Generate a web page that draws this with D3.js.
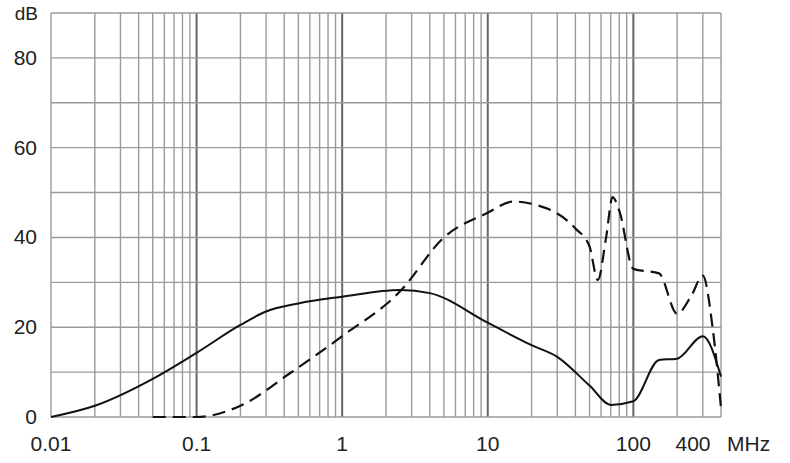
<!DOCTYPE html>
<html>
<head>
<meta charset="utf-8">
<script src="https://cdn.jsdelivr.net/npm/d3@7"></script>
<style>
  body { margin: 0; background: #fff; }
  text { font-family: "Liberation Sans", Arial, sans-serif; fill: #222; }
</style>
</head>
<body>
<div id="chart"></div>
<script>
    // frequency in MHz, attenuation in dB
    var solidFreq = [0.01, 0.02, 0.05, 0.1, 0.2, 0.3, 0.5, 1, 2.5, 4, 10, 20, 30, 50, 70, 100, 150, 200, 300, 400];
    var solidDb   = [0, 2.5, 8.5, 14.3, 20.5, 23.5, 25.3, 26.8, 28.3, 27.6, 21, 16, 13.4, 7, 2.7, 3.5, 12.7, 13, 18, 9];

    var dashFreq = [0.05, 0.1, 0.2, 0.44, 1, 2.5, 5, 10, 15, 20, 40, 50, 57, 65, 72, 80, 100, 150, 200, 250, 300, 350, 400];
    var dashDb   = [0, 0, 2.5, 9.8, 18, 28, 40, 45.5, 48, 47.5, 42, 38, 30.5, 40, 49, 46, 33, 32, 23, 27, 31.5, 20, 2];

    var yTicks = [0, 20, 40, 60, 80];
    var xTickLabels = [0.01, 0.1, 1, 10, 100];

    var svgWidth = 790, svgHeight = 463;
    var margin = { top: 13, left: 51, right: 69, bottom: 46 };
    var width = svgWidth - margin.left - margin.right;
    var height = svgHeight - margin.top - margin.bottom;

    var svg = d3.select("#chart").append("svg")
        .attr("width", svgWidth)
        .attr("height", svgHeight);

    var g = svg.append("g")
        .attr("transform", `translate(${margin.left}, ${margin.top})`);

    var x = d3.scaleLog().domain([0.01, 400]).range([0, width]);
    var y = d3.scaleLinear().domain([0, 90]).range([height, 0]);

    // vertical grid: 1..9 per decade
    var vLines = [];
    [0.01, 0.1, 1, 10, 100].forEach(function(dec) {
        for (var k = 1; k <= 9; k++) {
            var v = dec * k;
            if (v <= 400.0001) vLines.push(v);
        }
    });
    var isDecade = d => [0.1, 1, 10, 100].includes(+d.toPrecision(3));
    g.selectAll(".vgrid").data(vLines).enter().append("line")
        .attr("x1", d => x(d)).attr("x2", d => x(d))
        .attr("y1", 0).attr("y2", height)
        .attr("stroke", d => isDecade(d) ? "#666" : "#9a9a9a")
        .attr("stroke-width", d => isDecade(d) ? 2 : 1.4);

    g.selectAll(".hgrid").data(d3.range(0, 91, 10)).enter().append("line")
        .attr("x1", 0).attr("x2", width)
        .attr("y1", d => y(d)).attr("y2", d => y(d))
        .attr("stroke", "#9a9a9a").attr("stroke-width", 1.4);

    // y labels
    g.selectAll(".ylab").data(yTicks).enter().append("text")
        .attr("x", -14).attr("y", d => y(d) + 7)
        .attr("text-anchor", "end").attr("font-size", 21)
        .text(d => d);
    g.append("text").attr("x", -13).attr("y", y(90) + 7)
        .attr("text-anchor", "end").attr("font-size", 19).text("dB");

    // x labels
    g.selectAll(".xlab").data(xTickLabels).enter().append("text")
        .attr("x", d => x(d)).attr("y", height + 34)
        .attr("text-anchor", "middle").attr("font-size", 21)
        .text(d => d);
    g.append("text").attr("x", x(400) - 28).attr("y", height + 34)
        .attr("text-anchor", "middle").attr("font-size", 21).text("400");
    g.append("text").attr("x", x(400) + 6).attr("y", height + 34)
        .attr("text-anchor", "start").attr("font-size", 21).text("MHz");

    var line = d3.line()
        .x(d => x(d[0])).y(d => y(d[1]))
        .curve(d3.curveMonotoneX);

    g.append("path")
        .attr("d", line(d3.zip(solidFreq, solidDb)))
        .attr("fill", "none").attr("stroke", "#111").attr("stroke-width", 2);

    g.append("path")
        .attr("d", line(d3.zip(dashFreq, dashDb)))
        .attr("fill", "none").attr("stroke", "#111").attr("stroke-width", 2.2)
        .attr("stroke-dasharray", "13,7");
</script>
</body>
</html>
